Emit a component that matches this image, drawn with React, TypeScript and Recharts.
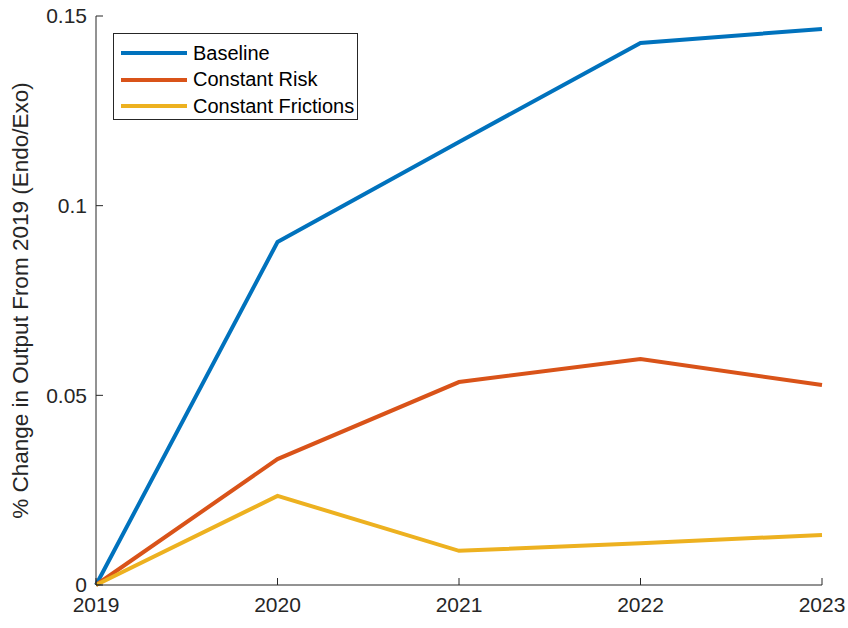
import { LineChart, Line, XAxis, YAxis } from "recharts";

const years = [2019, 2020, 2021, 2022, 2023];
const baseline = [0, 0.0904, 0.1168, 0.1429, 0.1466];
const constantRisk = [0, 0.0332, 0.0535, 0.0596, 0.0527];
const constantFrictions = [0, 0.0235, 0.009, 0.011, 0.0132];
const yTicks = [0, 0.05, 0.1, 0.15];

const series = [
  { key: "baseline", name: "Baseline", color: "#0072BD" },
  { key: "risk", name: "Constant Risk", color: "#D95319" },
  { key: "frictions", name: "Constant Frictions", color: "#EDB120" },
];

const data = years.map((year, i) => ({
  year,
  baseline: baseline[i],
  risk: constantRisk[i],
  frictions: constantFrictions[i],
}));

const FONT = "'Liberation Sans', Arial, Helvetica, sans-serif";
const AXIS = "#262626";

const LegendBox = () => (
  <div
    style={{
      position: "absolute",
      left: 113,
      top: 33,
      width: 245,
      height: 87,
      border: "1px solid #262626",
      background: "#fff",
      paddingTop: 6,
      boxSizing: "border-box",
      fontFamily: FONT,
      fontSize: 20,
      color: "#000",
    }}
  >
    {series.map((s) => (
      <div key={s.key} style={{ display: "flex", alignItems: "center", height: 26.5 }}>
        <span
          style={{
            display: "inline-block",
            width: 66,
            height: 4,
            background: s.color,
            marginLeft: 7,
            marginRight: 6,
          }}
        />
        <span>{s.name}</span>
      </div>
    ))}
  </div>
);

export default function App() {
  return (
    <div style={{ position: "absolute", left: 0, top: 0, width: 848, height: 628, background: "#fff" }}>
      <LineChart
        width={848}
        height={628}
        data={data}
        margin={{ top: 16, right: 26, left: 0, bottom: 0 }}
      >
        <XAxis
          dataKey="year"
          type="number"
          domain={[2019, 2023]}
          ticks={years}
          height={43}
          stroke={AXIS}
          tickSize={-7}
          tickMargin={19}
          tick={{ fill: AXIS, fontSize: 21, fontFamily: FONT }}
        />
        <YAxis
          domain={[0, 0.15]}
          ticks={yTicks}
          width={96}
          stroke={AXIS}
          tickSize={-7}
          tickMargin={16}
          tick={{ fill: AXIS, fontSize: 21, fontFamily: FONT }}
          label={{
            value: "% Change in Output From 2019 (Endo/Exo)",
            angle: -90,
            position: "insideLeft",
            offset: 20,
            style: { textAnchor: "middle", fill: AXIS, fontSize: 22.5, fontFamily: FONT },
          }}
        />
        {series.map((s) => (
          <Line
            key={s.key}
            dataKey={s.key}
            name={s.name}
            stroke={s.color}
            strokeWidth={4}
            dot={false}
            isAnimationActive={false}
          />
        ))}
      </LineChart>
      <LegendBox />
    </div>
  );
}
